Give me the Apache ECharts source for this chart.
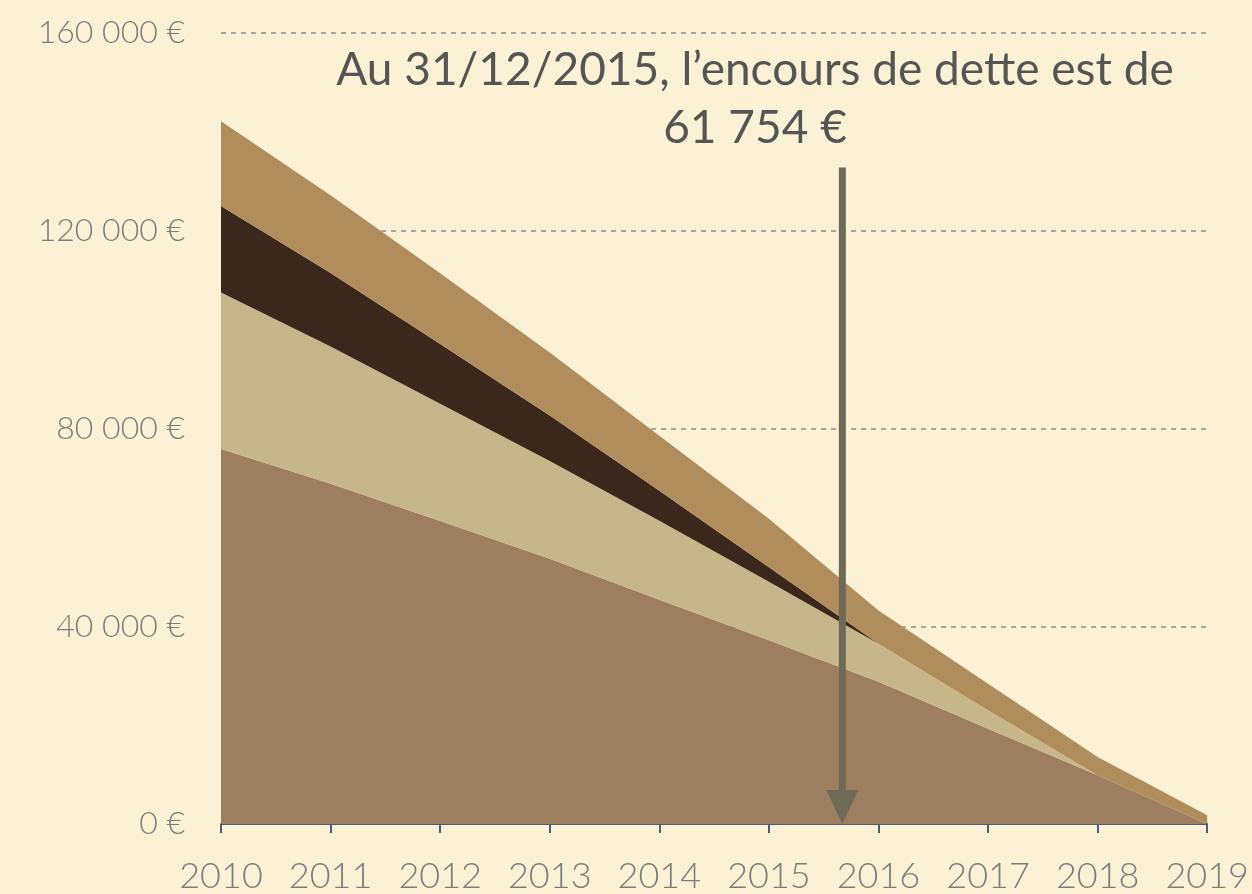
<!DOCTYPE html>
<html>
<head>
<meta charset="utf-8">
<script src="https://cdn.jsdelivr.net/npm/echarts@6/dist/echarts.min.js"></script>
<style>
  html, body { margin: 0; padding: 0; background: #fbf2d6; }
  #chart { width: 1252px; height: 894px; }
</style>
</head>
<body>
<div id="chart"></div>
<script>
// years on the x axis
const years = ['2010', '2011', '2012', '2013', '2014', '2015', '2016', '2017', '2018', '2019'];
// stacked outstanding debt, bottom to top
const loanA = [75850, 68840, 61270, 53630, 45370, 37170, 28790, 19290, 9860, 0];
const loanB = [31650, 27760, 23730, 19800, 15980, 11850, 7680, 3700, 0, 0];
const loanC = [17500, 14860, 12100, 9190, 6040, 2900, 0, 0, 0, 0];
const loanD = [17170, 15700, 14300, 12760, 11150, 9830, 6730, 5390, 3710, 1780];
const yTicks = [0, 40000, 80000, 120000, 160000];
const noteLines = ['Au 31/12/2015, l\u2019encours de dette est de', '61 754 \u20ac'];
const arrowAt = 5.67;   // position between 2015 and 2016 (category index)
const arrowTop = 132800;

const colors = ['#9d7e5f', '#c6b78a', '#3b281d', '#b08d5a'];
const font = 'Lato, "Open Sans", sans-serif';

const fmt = v => (v === 0 ? '0' : String(v).replace(/\B(?=(\d{3})+(?!\d))/g, ' ')) + ' \u20ac';

const chart = echarts.init(document.getElementById('chart'));

const mkSeries = (name, data, i) => ({
  name: name,
  type: 'line',
  stack: 'dette',
  data: data,
  symbol: 'none',
  lineStyle: { width: 0 },
  areaStyle: { color: colors[i], opacity: 1 },
  itemStyle: { color: colors[i] },
  animation: false
});

chart.setOption({
  backgroundColor: '#fbf2d6',
  animation: false,
  grid: { left: 221, right: 43, top: 33, bottom: 68 },
  xAxis: {
    type: 'category',
    data: years,
    boundaryGap: false,
    axisLine: { lineStyle: { color: '#4d5a78', width: 2 } },
    axisTick: { length: 9, interval: 0, lineStyle: { color: '#4d5a78', width: 2 } },
    axisLabel: { interval: 0, hideOverlap: false, color: '#7c7c7c', fontSize: 36, fontFamily: font, fontWeight: 300, margin: 34 }
  },
  yAxis: {
    type: 'value',
    min: yTicks[0],
    max: yTicks[yTicks.length - 1],
    interval: 40000,
    axisLine: { show: false },
    axisTick: { show: false },
    axisLabel: { color: '#7c7c7c', fontSize: 32, fontFamily: font, fontWeight: 300, margin: 36, formatter: fmt },
    splitLine: { lineStyle: { color: '#8c8c8c', type: [5, 5], width: 1.5 } }
  },
  series: [
    mkSeries('A', loanA, 0),
    mkSeries('B', loanB, 1),
    mkSeries('C', loanC, 2),
    mkSeries('D', loanD, 3)
  ]
});

// annotation: text + arrow, placed through the axes
const p5 = chart.convertToPixel({ gridIndex: 0 }, [5, arrowTop]);
const p6 = chart.convertToPixel({ gridIndex: 0 }, [6, 0]);
const ax = p5[0] + (p6[0] - p5[0]) * (arrowAt - 5);
const ay0 = p5[1];
const ay1 = p6[1];

chart.setOption({
  graphic: [
    {
      type: 'text', z: 100,
      style: { text: noteLines[0], x: 755, y: 93, fill: '#555555', font: '400 46px ' + font, align: 'center', verticalAlign: 'bottom' }
    },
    {
      type: 'text', z: 100,
      style: { text: noteLines[1], x: 755, y: 151, fill: '#555555', font: '400 46px ' + font, align: 'center', verticalAlign: 'bottom' }
    },
    {
      type: 'line', z: 100,
      shape: { x1: ax, y1: ay0, x2: ax, y2: ay1 - 30 },
      style: { stroke: '#6e6a58', lineWidth: 7 }
    },
    {
      type: 'polygon', z: 100,
      shape: { points: [[ax - 16, ay1 - 34], [ax + 16, ay1 - 34], [ax, ay1]] },
      style: { fill: '#6e6a58' }
    }
  ]
});
</script>
</body>
</html>
